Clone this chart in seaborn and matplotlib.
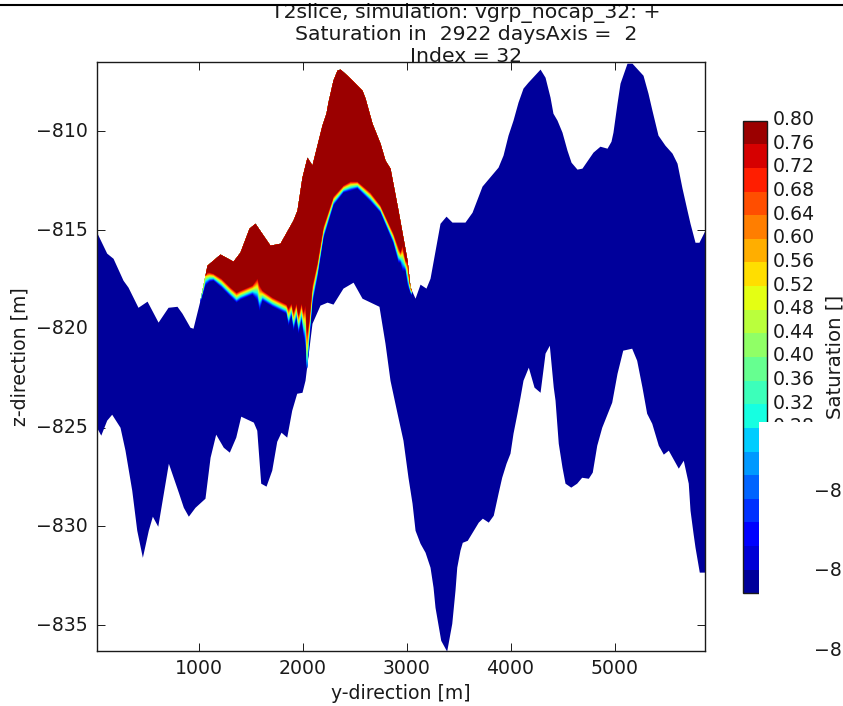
import numpy as np
import matplotlib
matplotlib.use("Agg")
import matplotlib.pyplot as plt
from matplotlib.colors import BoundaryNorm, ListedColormap
from matplotlib.cm import ScalarMappable
from matplotlib.lines import Line2D
from matplotlib.patches import Rectangle
from matplotlib.transforms import ScaledTranslation
import seaborn as sns

# ---------- data ----------
top_y = [19, 117, 178, 274, 322, 418, 505, 611, 707, 793, 841, 918, 947, 1014, 1082, 1207, 1332, 1399, 1486, 1543,
         1601, 1687, 1784, 1909, 1947, 1995, 2043, 2091, 2120, 2187, 2226, 2245, 2293, 2332, 2361, 2428, 2486, 2572,
         2601, 2668, 2745, 2793, 2841, 2918, 3005,
         3034, 3082, 3130, 3187, 3226, 3322, 3380, 3437, 3562, 3630, 3726, 3880, 3928, 3976, 4024, 4072, 4120, 4168,
         4284, 4332, 4380, 4408, 4447,
         4495, 4543, 4582, 4639, 4687, 4793, 4860, 4928, 4966, 4985, 5024, 5053, 5120, 5168, 5274, 5322, 5360, 5418,
         5485, 5553, 5601, 5649, 5697, 5726, 5774,
         5812, 5870]
top_z = [-815.10, -816.17, -816.43, -817.54, -817.89, -818.91, -818.60, -819.66, -818.91, -818.86, -819.21, -819.92,
         -819.97, -818.55, -816.78, -816.22, -816.58, -816.12, -814.91, -814.66, -815.11, -815.77, -815.67, -814.50,
         -814.00, -812.33, -811.32, -811.72, -811.11, -809.70, -809.09, -808.53, -807.42, -806.91, -806.86, -807.17,
         -807.47, -807.93, -808.33, -809.60, -810.61, -811.47, -811.87,
         -814.00, -816.53, -817.89, -818.45, -817.74, -817.94, -817.44, -814.66, -814.30, -814.60, -814.60, -814.10,
         -812.78, -811.82, -811.21, -810.20, -809.44, -808.53, -807.82, -807.52, -806.86, -807.27, -808.28, -809.09,
         -809.44, -810.05, -810.96, -811.57, -811.92, -811.87,
         -811.06, -810.76, -810.86, -810.51, -810.05, -808.58, -807.57, -806.56, -806.56, -807.17, -808.08, -808.94,
         -810.20, -810.71, -811.11, -811.62, -812.88, -814.00,
         -814.66, -815.62, -815.62, -815.01]

bottom_y = [19, 60, 117, 165, 245, 293, 358, 406, 460, 517, 556, 608, 710, 806, 854, 902, 966, 1062, 1111, 1165, 1238,
            1296, 1358, 1406, 1527, 1560, 1598, 1649, 1704, 1752, 1793, 1848, 1896, 1944, 1995, 2024, 2091, 2168, 2236,
            2293, 2389, 2486, 2572, 2735, 2793, 2841, 2909, 2966, 3014, 3053, 3082, 3130, 3178, 3226, 3255, 3274, 3329,
            3386, 3435, 3466, 3483, 3514, 3536, 3584,
            3690, 3729, 3786, 3834, 3880, 3915, 3957, 3995, 4024, 4062, 4091, 4120, 4171, 4226, 4284, 4332, 4373, 4411,
            4428, 4459, 4495, 4524, 4579, 4636, 4684,
            4748, 4786, 4829, 4877, 4973, 5024, 5079, 5165, 5213, 5264, 5309, 5358, 5421, 5469, 5517, 5613, 5661, 5709,
            5726, 5755, 5774, 5815, 5870]
bottom_z = [-824.98, -825.38, -824.62, -824.32, -824.98, -826.14, -828.17, -830.19, -831.56, -830.19, -829.48, -829.99,
            -826.80, -828.27, -829.03, -829.48, -829.03, -828.57, -826.50, -825.33, -825.99, -826.24, -825.48, -824.42,
            -824.72, -825.13, -827.81, -827.96, -827.15, -825.69, -825.23, -825.48, -824.12, -823.26, -823.21, -822.60,
            -819.72, -818.80, -818.65, -818.75, -817.94, -817.64, -818.45, -818.86, -820.73, -822.60, -824.27, -825.64,
            -827.51, -828.82, -830.19, -830.85, -831.30, -832.06, -833.07, -834.09, -835.76,
            -836.31, -834.90, -833.23, -832.06, -831.20, -830.80, -830.70, -829.78, -829.58, -829.78,
            -829.43, -828.32, -827.51, -826.80, -826.29, -825.28, -824.27, -823.46, -822.60, -821.94, -822.95, -823.21,
            -821.23, -820.83, -822.95, -823.61, -825.79, -827.00, -827.81,
            -828.01, -827.81, -827.51, -827.56, -827.25, -825.89, -824.98, -823.71, -822.25, -821.08, -820.98, -821.59,
            -822.95, -824.27,
            -824.78, -825.89, -826.34, -826.14, -827.05, -826.65, -827.81, -829.18, -830.34, -831.05, -832.31, -832.31]

# plume base: depth of the fully saturated edge and of the dry edge
plume_y = [1014, 1062, 1101, 1139, 1216, 1303, 1361, 1399, 1514, 1562, 1582, 1611, 1707, 1841, 1861, 1889, 1909, 1937,
           1957, 1986, 2005, 2024, 2038, 2058, 2091, 2139, 2197, 2293, 2389, 2457, 2524, 2649, 2745, 2870, 2918, 2937,
           2957, 2986, 3005, 3024, 3043]
plume_wet_z = [-817.69, -817.13, -817.13, -817.19, -817.44, -817.89, -818.15, -818.05, -817.79, -817.44, -817.79,
               -818.05, -818.40, -818.75, -818.96, -818.70, -819.16, -818.70, -819.31, -818.70, -819.16, -818.80,
               -820.22, -819.66, -817.79, -816.63, -814.81, -813.29, -812.73, -812.53, -812.53, -813.09, -813.74,
               -815.16, -815.87, -816.12, -815.77, -816.53, -816.63, -817.54, -818.05]
plume_dry_z = [-818.70, -817.79, -817.59, -817.54, -817.89, -818.35, -818.65, -818.50, -818.25, -818.55, -819.06,
               -818.55, -818.86, -819.21, -819.82, -819.31, -820.07, -819.46, -820.22, -819.56, -820.32, -820.83,
               -822.60, -820.83, -818.70, -817.39, -815.41, -813.74, -813.09, -812.99, -812.88, -813.54, -814.10,
               -815.67, -816.63, -816.63, -817.03, -817.03, -817.79, -818.05, -818.30]

sat_levels = [0.00, 0.04, 0.08, 0.12, 0.16, 0.20, 0.24, 0.28, 0.32, 0.36, 0.40, 0.44, 0.48, 0.52, 0.56, 0.60, 0.64,
              0.68, 0.72, 0.76, 0.80]
x_ticks = [1000, 2000, 3000, 4000, 5000]
z_ticks = [-835, -830, -825, -820, -815, -810]
title_lines = ["T2slice, simulation: vgrp_nocap_32: +", "Saturation in  2922 daysAxis =  2", "Index = 32"]
stray_labels = ["\u22128", "\u22128", "\u22128"]

# ---------- style ----------
sns.set_theme(style="ticks", rc={
    "font.family": "DejaVu Sans", "font.size": 13.6, "axes.labelsize": 13.6,
    "xtick.labelsize": 13.6, "ytick.labelsize": 13.6,
    "text.color": ".1", "axes.labelcolor": ".1", "xtick.color": ".1", "ytick.color": ".1",
    "axes.edgecolor": ".1", "axes.linewidth": 1.0,
    "xtick.direction": "in", "ytick.direction": "in", "xtick.top": True, "ytick.right": True,
    "xtick.major.size": 5.5, "ytick.major.size": 5.5,
    "xtick.major.width": 0.7, "ytick.major.width": 0.7,
})

W, H = 843, 706
fig = plt.figure(figsize=(W / 100, H / 100), dpi=100, facecolor="white")
ax = fig.add_axes([96.5 / W, 1 - 651 / H, (705 - 96.5) / W, (651 - 62) / H])

n_bands = len(sat_levels) - 1
band_colors = [plt.get_cmap("jet")((k + 0.5) / n_bands) for k in range(n_bands)]

grid = np.unique(np.concatenate([top_y, bottom_y, plume_y]))
top = np.interp(grid, top_y, top_z)
bottom = np.interp(grid, bottom_y, bottom_z)
wet = np.interp(grid, plume_y, plume_wet_z)
dry = np.interp(grid, plume_y, plume_dry_z)
inside = (grid >= plume_y[0]) & (grid <= plume_y[-1])

ax.fill_between(grid, bottom, top, color=band_colors[0], linewidth=0)
for k in range(1, n_bands):
    edge = dry + (wet - dry) * (k - 1) / (n_bands - 2)
    edge = np.clip(edge, bottom, top)
    ax.fill_between(grid, edge, top, where=inside, color=band_colors[k], linewidth=0, interpolate=False)

ax.set_xlim(19, 5870)
ax.set_ylim(-836.3, -806.5)
ax.set_xticks(x_ticks)
ax.set_yticks(z_ticks)
ax.set_xlabel("y-direction [m]", labelpad=4)
ax.set_ylabel("z-direction [m]", labelpad=5)
ax.tick_params(axis="both", pad=6)
lift_main = ScaledTranslation(0, 2 / 100, fig.dpi_scale_trans)
for lab in ax.get_yticklabels():
    lab.set_transform(lab.get_transform() + lift_main)

# colourbar
cax = fig.add_axes([743.3 / W, 1 - 593.3 / H, (766.7 - 743.3) / W, (593.3 - 120.7) / H])
mappable = ScalarMappable(norm=BoundaryNorm(sat_levels, n_bands), cmap=ListedColormap(band_colors))
cbar = fig.colorbar(mappable, cax=cax, ticks=sat_levels, spacing="proportional")
cbar.ax.set_yticklabels([f"{v:.2f}" for v in sat_levels])
cbar.ax.tick_params(axis="y", direction="in", length=5, width=0.7, pad=4, right=True, left=False)
cbar.outline.set_linewidth(1.0)
cbar.set_label("Saturation []", fontsize=14.2, labelpad=8)
lift = ScaledTranslation(0, 3 / 100, fig.dpi_scale_trans)
for lab in cbar.ax.get_yticklabels():
    lab.set_transform(lab.get_transform() + lift)

# title
for line, py in zip(title_lines, [13, 35, 57]):
    fig.text(466 / W, 1 - py / H, line, ha="center", va="center", fontsize=14.7, zorder=5)

# leftovers of the screenshot
fig.add_artist(Rectangle((759 / W, 0), (W - 759) / W, 1 - 421.7 / H, transform=fig.transFigure,
                         facecolor="white", edgecolor="none", zorder=10))
for label, py in zip(stray_labels, [491.5, 570.5, 650]):
    fig.text(814.5 / W, 1 - py / H, label, ha="left", va="center", fontsize=13.6, zorder=11)
fig.add_artist(Line2D([0, 1], [1 - 5 / H, 1 - 5 / H], color="black", linewidth=1.5, zorder=12))

fig.savefig("out.png", dpi=100, facecolor="white")
